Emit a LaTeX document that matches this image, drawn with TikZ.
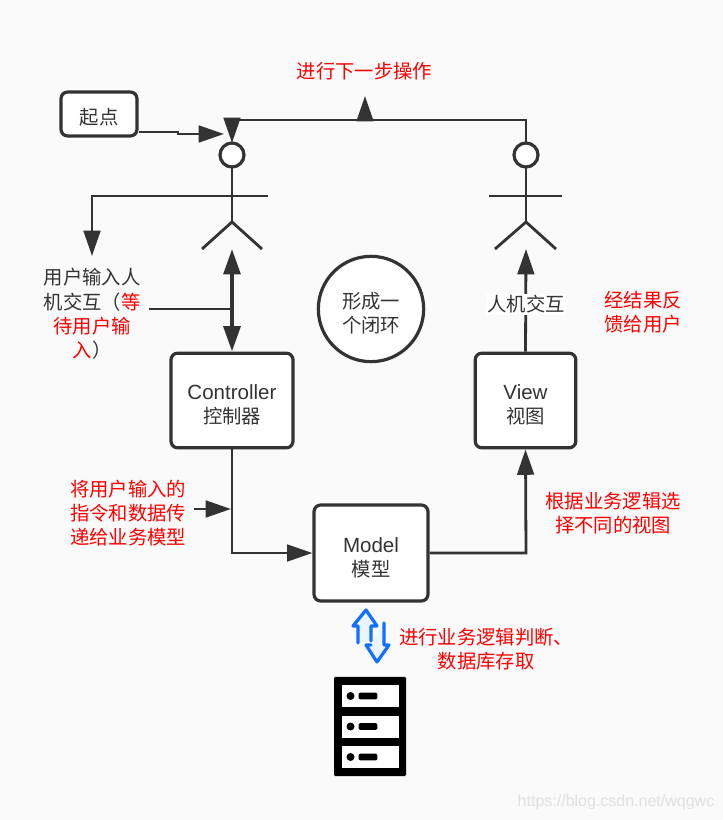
\documentclass[tikz,border=0pt]{standalone}
\usepackage{fontspec}
\setmainfont{Noto Sans CJK SC}
\newfontfamily\latinfont{Liberation Sans}
\newcommand{\boxword}[1]{{\latinfont\fontsize{15.4pt}{18pt}\selectfont #1}}
\usetikzlibrary{arrows.meta,positioning,calc}
\definecolor{inkgray}{HTML}{333333}
\definecolor{paper}{HTML}{FAFAFA}
\definecolor{linkblue}{HTML}{1170FF}
\tikzset{
    line/.style={-,line width=2.1pt,color=inkgray},
    link/.style={line,-{Triangle[length=19pt,width=12.5pt]}},
    box/.style={draw=inkgray,fill=white,line width=2.4pt,rounded corners=5pt,inner sep=0pt,align=center,text=inkgray,font=\fontsize{14.5pt}{18pt}\selectfont},
    twolines/.style={text height=38pt,text depth=3pt},
    head/.style={draw=inkgray,fill=white,circle,line width=2.4pt,inner sep=0pt,outer sep=0pt,minimum size=18pt},
    note/.style={align=center,text=red,inner sep=0pt,font=\fontsize{14.5pt}{18.2pt}\selectfont},
    plain/.style={note,text=inkgray},
    cell/.style={fill=white,minimum width=42.75pt,minimum height=16.5pt,inner sep=0pt},
    led/.style={fill=black,circle,inner sep=0pt,minimum size=6pt},
    bar/.style={fill=black,minimum width=14pt,minimum height=5pt,inner sep=0pt,rounded corners=1pt},
    swap/.style={linkblue,line width=2.4pt,line join=round,line cap=round,fill=linkblue!8},
}
\begin{document}
\begin{tikzpicture}[x=0.75pt,y=-0.75pt]
    \useasboundingbox[fill=paper] (0,0) rectangle (723,820);
    % boxes
    \node[box,minimum width=57pt,minimum height=33pt,text height=19pt,text depth=3pt] (start) at (99,114) {起点};
    \node[box,twolines,minimum width=91.5pt,minimum height=71pt] (controller) at (232,400.5) {\boxword{Controller}\\控制器};
    \node[box,twolines,minimum width=75.5pt,minimum height=71pt] (view) at (525.5,400.5) {\boxword{View}\\视图};
    \node[box,twolines,minimum width=85.5pt,minimum height=72pt] (model) at (371,553) {\boxword{Model}\\模型};
    \node[box,twolines,circle,minimum size=79pt] (loop) at (371,309) {形成一\\个闭环};
    % first figure
    \coordinate (topleft) at (232,120);
    \node[head] (heada) at (232,155) {};
    \coordinate (hipa) at (232,222);
    \coordinate (armla) at (196,196);
    \coordinate (armra) at (268,196);
    \draw[line] (heada) -- (hipa);
    \draw[line] (armla) -- (armra);
    \draw[line] (202,249) -- (hipa) -- (262,249);
    % second figure
    \node[head] (headb) at (526,155) {};
    \coordinate (hipb) at (526,222);
    \draw[line] (headb) -- (hipb);
    \draw[line] (489,196) -- (562,196);
    \draw[line] (495,249) -- (hipb) -- (556,249);
    % user input
    \node[plain] (input) at (92,314) {用户输入人\\机交互（{\color{red}等}\\{\color{red}待用户输}\\{\color{red}入}）};
    \coordinate (turn) at (92,196);
    \coordinate (inputend) at (92,256);
    \draw[link] (armla) -- (turn) -- (inputend);
    \coordinate (actorfoot) at (232,249);
    \coordinate (inputout) at (149,309);
    \coordinate (inputjoin) at (232,309);
    \draw[line] (inputout) -- (inputjoin);
    \draw[line,line width=3pt,{Triangle[length=19pt,width=12.5pt]}-{Triangle[length=19pt,width=12.5pt]}] (actorfoot) -- (controller.north);
    % start and top loop
    \coordinate (starttip) at (224,134);
    \draw[link] (start.east |- 0,132) -- (178,132) -- (178,134) -- (starttip);
    \coordinate (headbtop) at (526,120);
    \draw[line] (topleft) -- (headbtop) -- (headb);
    \draw[link] (topleft) -- (heada.north);
    \coordinate (uptip) at (365,96);
    \coordinate (upbase) at (365,120);
    \draw[link] (upbase) -- (uptip);
    % boxes linked
    \coordinate (modelturn) at (232,553);
    \draw[link] (controller.south) -- (modelturn) -- (model.west);
    \coordinate (noteout) at (194,509);
    \coordinate (notetip) at (231,509);
    \draw[link] (noteout) -- (notetip);
    \coordinate (viewturn) at (526,553);
    \draw[link] (model.east) -- (viewturn) -- (view.south);
    \coordinate (footb) at (526,249);
    \draw[link] (view.north) -- (footb);
    \node[plain,fill=white,inner sep=1pt] (hci) at (526,304.5) {人机交互};
    % red notes
    \node[note] (next) at (364.5,71) {进行下一步操作};
    \node[note] (feedback) at (643,312.5) {经结果反\\馈给用户};
    \node[note] (pass) at (128,513) {将用户输入的\\指令和数据传\\递给业务模型};
    \node[note] (choose) at (613,513) {根据业务逻辑选\\择不同的视图};
    \node[note] (store) at (486,649) {进行业务逻辑判断、\\数据库存取};
    % blue arrows
    \draw[swap] (358,643) -- (358,626) -- (353,626) -- (366,610) -- (377,626) -- (371,626) -- (371,641);
    \draw[swap] (384,623) -- (384,645) -- (389,645) -- (377,662) -- (366,645) -- (371,645);
    % server
    \node[fill=black,rounded corners=1pt,minimum width=54pt,minimum height=74.5pt,inner sep=0pt] (server) at (370,726.5) {};
    \foreach \row/\cy in {a/696,b/726.5,c/757}{
        \node[cell] (cell\row) at (370.5,\cy) {};
        \node[led] (led\row) at (350.5,\cy) {};
        \node[bar] (bar\row) at (368,\cy) {};
    }
    % watermark
    \node[text=black!12,inner sep=0pt,font=\latinfont\fontsize{12pt}{14pt}\selectfont] (mark) at (616,802) {https://blog.csdn.net/wqgwc};
\end{tikzpicture}
\end{document}
